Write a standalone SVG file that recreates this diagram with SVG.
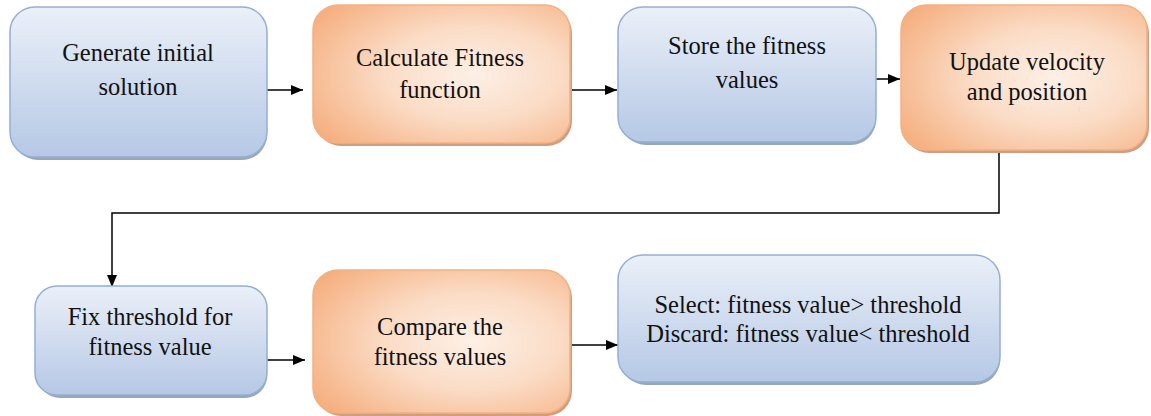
<svg xmlns="http://www.w3.org/2000/svg" width="1151" height="416" viewBox="0 0 1151 416">
<style>
.blue{fill:url(#gb);stroke:#93afd6;stroke-width:1.5}
.orange{fill:url(#go);stroke:#f3b184;stroke-width:1.5}
.sb{fill:#99a6ba}
.so{fill:#cf9d7f}
.t{font-family:"Liberation Serif","Times New Roman",serif;font-size:24.5px;fill:#111;text-anchor:middle}
.c{fill:none;stroke:#000;stroke-width:1.5}
</style>
<defs>
<linearGradient id="gb" x1="0" y1="0" x2="0" y2="1">
<stop offset="0" stop-color="#ebf0f8"/>
<stop offset="1" stop-color="#b5c8e5"/>
</linearGradient>
<radialGradient id="go" cx="0.62" cy="0.5" r="0.75">
<stop offset="0" stop-color="#fdf0e6"/>
<stop offset="0.45" stop-color="#fbdcc6"/>
<stop offset="1" stop-color="#f5ad7c"/>
</radialGradient>
<marker id="ah" markerWidth="12" markerHeight="10" refX="12" refY="5" orient="auto" markerUnits="userSpaceOnUse">
<path d="M0,0 L12,5 L0,10 Z" fill="#000"/>
</marker>
</defs>
<g id="connectors">
<line class="c" x1="267" y1="90" x2="303" y2="90" marker-end="url(#ah)"/>
<line class="c" x1="570" y1="90" x2="617" y2="90" marker-end="url(#ah)"/>
<line class="c" x1="876" y1="79" x2="900" y2="79" marker-end="url(#ah)"/>
<polyline class="c" points="999,150 999,213 112,213 112,287" marker-end="url(#ah)"/>
<line class="c" x1="267" y1="360" x2="305" y2="360" marker-end="url(#ah)"/>
<line class="c" x1="570" y1="345" x2="618" y2="345" marker-end="url(#ah)"/>
</g>
<g id="n1">
<rect class="sb" x="13" y="10" width="254" height="150" rx="25"/>
<rect class="blue" x="10" y="7" width="257" height="150" rx="25"/>
<text class="t" x="138" y="61">Generate initial</text>
<text class="t" x="138" y="95">solution</text>
</g>
<g id="n2">
<rect class="so" x="316" y="8" width="256" height="138" rx="25"/>
<rect class="orange" x="313" y="5" width="257" height="138" rx="25"/>
<text class="t" x="440" y="66">Calculate Fitness</text>
<text class="t" x="440" y="98">function</text>
</g>
<g id="n3">
<rect class="sb" x="621" y="10" width="255" height="135" rx="25"/>
<rect class="blue" x="618" y="7" width="258" height="135" rx="25"/>
<text class="t" x="747" y="54">Store the fitness</text>
<text class="t" x="747" y="88">values</text>
</g>
<g id="n4">
<rect class="so" x="904" y="8" width="245" height="145" rx="25"/>
<rect class="orange" x="901" y="5" width="246" height="145" rx="25"/>
<text class="t" x="1027" y="70">Update velocity</text>
<text class="t" x="1027" y="100">and position</text>
</g>
<g id="n5">
<rect class="sb" x="38" y="289" width="229" height="109" rx="22"/>
<rect class="blue" x="35" y="286" width="232" height="109" rx="22"/>
<text class="t" x="150" y="325">Fix threshold for</text>
<text class="t" x="150" y="355">fitness value</text>
</g>
<g id="n6">
<rect class="so" x="316" y="273" width="256" height="143" rx="25"/>
<rect class="orange" x="313" y="270" width="257" height="143" rx="25"/>
<text class="t" x="440" y="335">Compare the</text>
<text class="t" x="440" y="365">fitness values</text>
</g>
<g id="n7">
<rect class="sb" x="621" y="258" width="379" height="127" rx="25"/>
<rect class="blue" x="618" y="255" width="382" height="127" rx="25"/>
<text class="t" x="808" y="313">Select: fitness value&gt; threshold</text>
<text class="t" x="808" y="342">Discard: fitness value&lt; threshold</text>
</g>
</svg>
